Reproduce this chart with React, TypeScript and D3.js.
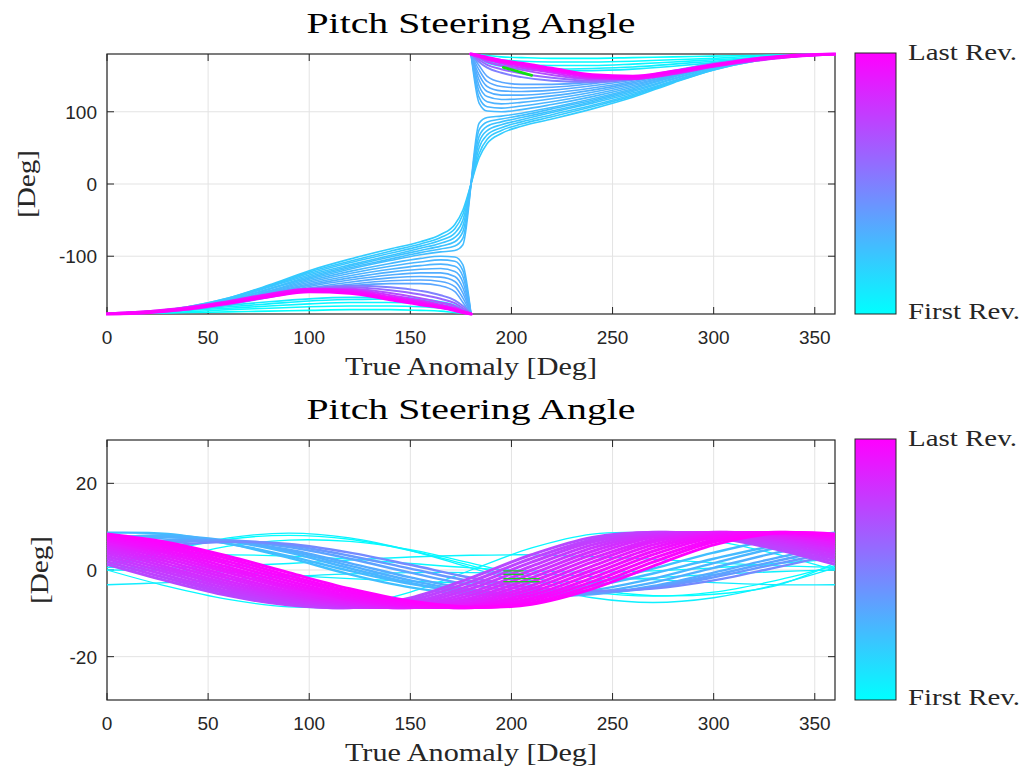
import React from 'react';
import * as d3 from 'd3';

// ---------- data ----------
const xTicks = [0, 50, 100, 150, 200, 250, 300, 350];
const topYTicks = [-100, 0, 100];
const botYTicks = [-20, 0, 20];
const titleText = 'Pitch Steering Angle';
const xLabelText = 'True Anomaly [Deg]';
const yLabelText = '[Deg]';
const cbTopLabel = 'Last Rev.';
const cbBottomLabel = 'First Rev.';

// top panel: each rev drawn as two segments (0-180, 180-360)
const topXFirst = [0, 20, 40, 60, 80, 100, 120, 140, 155, 165, 172, 176, 180];
const topXSecond = [180, 184, 188, 195, 205, 220, 240, 260, 280, 300, 320, 340, 360];
const topRevs = [0.0, 0.02, 0.04, 0.06, 0.08,
  0.2, 0.21, 0.22, 0.23, 0.24, 0.25, 0.26,
  0.28, 0.29, 0.3, 0.31, 0.32, 0.33, 0.34, 0.35,
  0.5, 0.6, 0.7, 0.8,
  0.88, 0.94, 1.0];
const topFirstHalf = [
  [-180, -179, -178, -177, -176, -175, -174, -174, -175, -176, -178, -179, -180],
  [-180, -179, -177, -174, -172, -170, -169, -169, -170, -172, -175, -177, -180],
  [-180, -178, -175, -172, -169, -166, -164, -164, -165, -168, -172, -176, -180],
  [-180, -178, -174, -170, -166, -162, -160, -159, -161, -165, -170, -175, -180],
  [-180, -177, -173, -168, -163, -159, -157, -157, -159, -163, -168, -174, -180],
  [-180, -177, -170, -158, -140, -120, -104, -90, -80, -70, -56, -36, 0],
  [-180, -177, -170, -158, -141, -122, -107, -93, -83, -74, -62, -42, 0],
  [-180, -177, -171, -159, -142, -124, -109, -96, -86, -78, -68, -50, 0],
  [-180, -177, -171, -160, -143, -126, -112, -99, -89, -82, -74, -58, 0],
  [-180, -178, -171, -161, -145, -128, -114, -101, -92, -86, -80, -66, 0],
  [-180, -178, -172, -162, -146, -130, -116, -104, -95, -90, -86, -75, 0],
  [-180, -178, -172, -163, -148, -132, -118, -106, -98, -94, -92, -84, 0],
  [-180, -178, -172, -163, -149, -134, -121, -110, -103, -100, -101, -112, -180],
  [-180, -178, -173, -164, -150, -136, -124, -114, -108, -105, -107, -120, -180],
  [-180, -178, -173, -165, -151, -138, -127, -118, -113, -111, -114, -128, -180],
  [-180, -178, -173, -165, -152, -140, -130, -122, -118, -117, -121, -136, -180],
  [-180, -178, -174, -166, -154, -142, -133, -126, -123, -123, -128, -144, -180],
  [-180, -178, -174, -166, -155, -144, -136, -130, -128, -129, -135, -151, -180],
  [-180, -178, -174, -167, -156, -146, -139, -134, -133, -135, -142, -158, -180],
  [-180, -178, -174, -167, -157, -147, -141, -138, -138, -141, -149, -164, -180],
  [-180, -177, -172, -164, -154, -145, -141, -143, -148, -154, -161, -169, -180],
  [-180, -177, -172, -164, -155, -146, -143, -147, -153, -159, -165, -172, -180],
  [-180, -177, -172, -165, -155, -147, -145, -151, -158, -164, -169, -175, -180],
  [-180, -177, -172, -165, -156, -147, -146, -154, -161, -167, -172, -176, -180],
  [-180, -177, -171, -163, -153, -146, -148, -157, -164, -169, -173, -177, -180],
  [-180, -177, -172, -164, -154, -147, -149, -158, -165, -170, -174, -177, -180],
  [-180, -178, -173, -165, -156, -149, -151, -160, -167, -171, -175, -178, -180],
];
const topSecondHalf = [
  [180, 179, 178, 176, 175, 174, 174, 175, 176, 177, 178, 179, 180],
  [180, 177, 175, 172, 170, 169, 169, 170, 172, 174, 177, 179, 180],
  [180, 176, 172, 168, 165, 164, 164, 166, 169, 172, 175, 178, 180],
  [180, 175, 170, 165, 161, 159, 160, 162, 166, 170, 174, 178, 180],
  [180, 174, 168, 163, 159, 157, 157, 159, 163, 168, 173, 177, 180],
  [0, 36, 56, 70, 80, 90, 104, 120, 140, 158, 170, 177, 180],
  [0, 42, 62, 74, 83, 93, 107, 122, 141, 158, 170, 177, 180],
  [0, 50, 68, 78, 86, 96, 109, 124, 142, 159, 171, 177, 180],
  [0, 58, 74, 82, 89, 99, 112, 126, 143, 160, 171, 177, 180],
  [0, 66, 80, 86, 92, 101, 114, 128, 145, 161, 171, 178, 180],
  [0, 75, 86, 90, 95, 104, 116, 130, 146, 162, 172, 178, 180],
  [0, 84, 92, 94, 98, 106, 118, 132, 148, 163, 172, 178, 180],
  [180, 112, 101, 100, 103, 110, 121, 134, 149, 163, 172, 178, 180],
  [180, 120, 107, 105, 108, 114, 124, 136, 150, 164, 173, 178, 180],
  [180, 128, 114, 111, 113, 118, 127, 138, 151, 165, 173, 178, 180],
  [180, 136, 121, 117, 118, 122, 130, 140, 152, 165, 173, 178, 180],
  [180, 144, 128, 123, 123, 126, 133, 142, 154, 166, 174, 178, 180],
  [180, 151, 135, 129, 128, 130, 136, 144, 155, 166, 174, 178, 180],
  [180, 158, 142, 135, 133, 134, 139, 146, 156, 167, 174, 178, 180],
  [180, 164, 149, 141, 138, 138, 141, 147, 157, 167, 174, 178, 180],
  [180, 169, 161, 154, 148, 143, 141, 145, 154, 164, 172, 177, 180],
  [180, 172, 165, 159, 153, 147, 143, 146, 155, 164, 172, 177, 180],
  [180, 175, 169, 164, 158, 151, 145, 147, 155, 165, 172, 177, 180],
  [180, 176, 172, 167, 161, 154, 146, 147, 156, 165, 172, 177, 180],
  [180, 177, 173, 169, 164, 157, 148, 146, 153, 163, 171, 177, 180],
  [180, 177, 174, 170, 165, 158, 149, 147, 154, 164, 172, 177, 180],
  [180, 178, 175, 171, 167, 160, 151, 149, 156, 165, 173, 178, 180],
];
const greenTopX = [196, 210];
const greenTopY = [161.5, 150.5];

// bottom panel
const botX = [0, 30, 60, 90, 120, 150, 180, 210, 240, 270, 300, 330, 360];
const botRevs = [0.0, 0.01, 0.02, 0.03, 0.04, 0.05, 0.06, 0.07,
  0.25, 0.27, 0.29, 0.31, 0.33, 0.36, 0.4, 0.46,
  0.72, 0.74, 0.76, 0.78, 0.8, 0.82, 0.84, 0.86,
  0.88, 0.9, 0.92, 0.94, 0.955, 0.97, 0.985, 1.0];
const botCurves = [
  [1, 4.5, 7.1, 8, 7.1, 4.5, 1, -2.5, -5.1, -6, -5.1, -2.5, 1],
  [1.6, 2.7, 5.5, 6.9, 6.6, 4.7, 1.6, -1.7, -4.5, -5.9, -5.6, -3.7, 1.6],
  [2.5, 3.2, 3.5, 3.2, 2.5, 1.5, 0.5, -0.2, -0.5, -0.2, 0.5, 1.5, 2.5],
  [0, -3.8, -6.8, -8.5, -8.3, -5.1, 0, 5.1, 8.3, 8.5, 6.8, 3.8, 0],
  [0.6, 0.5, 0.9, 1.5, 2.3, 3.0, 3.4, 3.5, 3.1, 2.5, 1.7, 1.0, 0.6],
  [0, -0.1, -0.5, -1.2, -2.0, -2.6, -3.0, -2.9, -2.5, -1.8, -1.0, -0.4, 0],
  [0.5, 4.5, 7.4, 8.5, 7.4, 4.5, 0.5, -3.5, -6.4, -7.5, -6.4, -3.5, 0.5],
  [-3.4, -2.9, -2.2, -1.5, -0.9, -0.6, -0.6, -0.9, -1.5, -2.2, -2.9, -3.4, -3.4],
  [8.6, 8.3, 6.1, 2.8, -1.0, -4.0, -5.6, -5.3, -3.1, 0.3, 4.0, 7.0, 8.6],
  [7.5, 7.7, 6.1, 3.2, -0.2, -3.2, -5.1, -5.3, -3.7, -0.8, 2.6, 5.6, 7.5],
  [7.3, 8.0, 6.7, 4.0, 0.4, -3.0, -5.3, -6.0, -4.7, -2.0, 1.6, 5.0, 7.3],
  [6.4, 7.5, 6.7, 4.4, 1.0, -2.4, -4.9, -6.0, -5.2, -2.9, 0.5, 3.9, 6.4],
  [5.5, 6.9, 6.6, 4.7, 1.6, -1.7, -4.5, -5.9, -5.6, -3.7, -0.6, 2.7, 5.5],
  [4.9, 6.6, 6.8, 5.3, 2.6, -0.6, -3.5, -5.2, -5.4, -3.9, -1.2, 2.0, 4.9],
  [4.2, 6.2, 6.8, 5.7, 3.3, 0.3, -2.6, -4.6, -5.2, -4.1, -1.7, 1.3, 4.2],
  [3.6, 5.6, 6.5, 6.0, 4.0, 1.2, -1.8, -4.0, -4.8, -4.3, -2.4, 0.5, 3.6],
  [1.3, -2.56, -5.92, -8.1, -8.65, -6.47, -1.81, 3.54, 7.53, 8.68, 7.53, 4.9, 1.3],
  [1.93, -1.93, -5.41, -7.82, -8.7, -7.0, -2.68, 2.68, 7.0, 8.7, 7.82, 5.41, 1.93],
  [2.56, -1.3, -4.9, -7.53, -8.68, -7.53, -3.54, 1.81, 6.47, 8.65, 8.1, 5.92, 2.56],
  [3.17, -0.65, -4.34, -7.17, -8.58, -7.9, -4.33, 0.9, 5.79, 8.46, 8.29, 6.36, 3.17],
  [3.77, 0, -3.77, -6.8, -8.48, -8.27, -5.11, 0, 5.11, 8.27, 8.48, 6.8, 3.77],
  [4.34, 0.65, -3.17, -6.36, -8.29, -8.46, -5.79, -0.9, 4.33, 7.9, 8.58, 7.17, 4.34],
  [4.9, 1.3, -2.56, -5.92, -8.1, -8.65, -6.47, -1.81, 3.54, 7.53, 8.68, 7.53, 4.9],
  [5.41, 1.93, -1.93, -5.41, -7.82, -8.7, -7.0, -2.68, 2.68, 7.0, 8.7, 7.82, 5.41],
  [5.92, 2.56, -1.3, -4.9, -7.53, -8.68, -7.53, -3.54, 1.81, 6.47, 8.65, 8.1, 5.92],
  [6.36, 3.17, -0.65, -4.34, -7.17, -8.58, -7.9, -4.33, 0.9, 5.79, 8.46, 8.29, 6.36],
  [6.8, 3.77, 0, -3.77, -6.8, -8.48, -8.27, -5.11, 0, 5.11, 8.27, 8.48, 6.8],
  [7.17, 4.34, 0.65, -3.17, -6.36, -8.29, -8.46, -5.79, -0.9, 4.33, 7.9, 8.58, 7.17],
  [7.53, 4.9, 1.3, -2.56, -5.92, -8.1, -8.65, -6.47, -1.81, 3.54, 7.53, 8.68, 7.53],
  [7.82, 5.41, 1.93, -1.93, -5.41, -7.82, -8.7, -7.0, -2.68, 2.68, 7.0, 8.7, 7.82],
  [8.1, 5.92, 2.56, -1.3, -4.9, -7.53, -8.68, -7.53, -3.54, 1.81, 6.47, 8.65, 8.1],
  [8.29, 6.36, 3.17, -0.65, -4.34, -7.17, -8.58, -7.9, -4.33, 0.9, 5.79, 8.46, 8.29],
];
const greenBotStart = [196, 196, 196, 196];
const greenBotEnd = [206, 206, 214, 214];
const greenBotY = [-0.2, -1.0, -2.0, -2.7];

// ---------- layout ----------
const LEFT = 107;
const RIGHT = 835;
const PANEL_H = 260;
const CB_X = 855;
const CB_W = 41;
const AX = '#262626';
const GRID = '#e3e3e3';
const SERIF = '"Liberation Serif", "Times New Roman", serif';
const SANS = '"Liberation Sans", Arial, Helvetica, sans-serif';

const cool = d3.interpolateRgb('#00ffff', '#ff00ff');

type PanelProps = {
  id: string;
  top: number;
  yDomain: [number, number];
  yTicks: number[];
  yLabelX: number;
  children: (x: d3.ScaleLinear<number, number>, y: d3.ScaleLinear<number, number>) => React.ReactNode;
};

function Panel({ id, top, yDomain, yTicks, yLabelX, children }: PanelProps) {
  const bottom = top + PANEL_H;
  const x = d3.scaleLinear().domain([0, 360]).range([LEFT, RIGHT]);
  const y = d3.scaleLinear().domain(yDomain).range([bottom, top]);
  const tickLen = 7;
  const midX = (LEFT + RIGHT) / 2;
  return (
    <g>
      <defs>
        <clipPath id={`clip-${id}`}>
          <rect x={LEFT - 1} y={top - 1.5} width={RIGHT - LEFT + 2} height={PANEL_H + 3} />
        </clipPath>
        <linearGradient id={`grad-${id}`} x1="0" y1="1" x2="0" y2="0">
          <stop offset="0%" stopColor="#00ffff" />
          <stop offset="100%" stopColor="#ff00ff" />
        </linearGradient>
      </defs>
      <text x={midX} y={top - 21} textAnchor="middle" fontFamily={SERIF} fontSize={30}
        textLength={329} lengthAdjust="spacingAndGlyphs" fill="#000">{titleText}</text>
      {xTicks.map((t) => (
        <line key={`gx${t}`} x1={x(t)} x2={x(t)} y1={top} y2={bottom} stroke={GRID} strokeWidth={1} />
      ))}
      {yTicks.map((t) => (
        <line key={`gy${t}`} x1={LEFT} x2={RIGHT} y1={y(t)} y2={y(t)} stroke={GRID} strokeWidth={1} />
      ))}
      {xTicks.map((t) => (
        <g key={`tx${t}`}>
          <line x1={x(t)} x2={x(t)} y1={bottom} y2={bottom - tickLen} stroke={AX} strokeWidth={1} />
          <line x1={x(t)} x2={x(t)} y1={top} y2={top + tickLen} stroke={AX} strokeWidth={1} />
          <text x={x(t)} y={bottom + 30} textAnchor="middle" fontFamily={SANS} fontSize={19} fill={AX}>{t}</text>
        </g>
      ))}
      {yTicks.map((t) => (
        <g key={`ty${t}`}>
          <line x1={LEFT} x2={LEFT + tickLen} y1={y(t)} y2={y(t)} stroke={AX} strokeWidth={1} />
          <line x1={RIGHT} x2={RIGHT - tickLen} y1={y(t)} y2={y(t)} stroke={AX} strokeWidth={1} />
          <text x={LEFT - 10} y={y(t) + 7} textAnchor="end" fontFamily={SANS} fontSize={19} fill={AX}>{t}</text>
        </g>
      ))}
      <rect x={LEFT} y={top} width={RIGHT - LEFT} height={PANEL_H} fill="none" stroke={AX} strokeWidth={1.2} />
      <g clipPath={`url(#clip-${id})`}>{children(x, y)}</g>
      <text x={midX} y={bottom + 61} textAnchor="middle" fontFamily={SERIF} fontSize={26}
        textLength={252} lengthAdjust="spacingAndGlyphs" fill={AX}>{xLabelText}</text>
      <text transform={`translate(${yLabelX},${top + PANEL_H / 2}) rotate(-90)`} textAnchor="middle"
        fontFamily={SERIF} fontSize={26} textLength={68} lengthAdjust="spacingAndGlyphs" fill={AX}>{yLabelText}</text>
      <rect x={CB_X} y={top - 1} width={CB_W} height={PANEL_H + 1} fill={`url(#grad-${id})`} stroke={AX} strokeWidth={1} />
      <text x={908} y={top + 6} fontFamily={SERIF} fontSize={23} textLength={109}
        lengthAdjust="spacingAndGlyphs" fill={AX}>{cbTopLabel}</text>
      <text x={908} y={bottom + 5} fontFamily={SERIF} fontSize={23} textLength={112}
        lengthAdjust="spacingAndGlyphs" fill={AX}>{cbBottomLabel}</text>
    </g>
  );
}

export default function App() {
  const topWidth = (t: number) => (t >= 0.85 ? 3.2 : t >= 0.45 ? 2.0 : 1.6);
  const botWidth = (t: number) => (t >= 0.6 ? 3.0 : t >= 0.2 ? 2.4 : 1.3);
  return (
    <svg width={1026} height={771} style={{ position: 'absolute', left: 0, top: 0, background: '#fff' }}>
      <rect x={0} y={0} width={1026} height={771} fill="#fff" />
      <Panel id="top" top={54} yDomain={[-180, 180]} yTicks={topYTicks} yLabelX={35}>
        {(x, y) => {
          const gen = (xs: number[]) =>
            d3.line<number>().x((_, i) => x(xs[i])).y((d) => y(d)).curve(d3.curveMonotoneX);
          return (
            <g fill="none" strokeLinejoin="round" strokeLinecap="round">
              {topRevs.map((t, k) => (
                <g key={k} stroke={cool(t)} strokeWidth={topWidth(t)}>
                  <path d={gen(topXFirst)(topFirstHalf[k]) || ''} />
                  <path d={gen(topXSecond)(topSecondHalf[k]) || ''} />
                </g>
              ))}
              <path d={d3.line<number>().x((_, i) => x(greenTopX[i])).y((d) => y(d))(greenTopY) || ''}
                stroke="#10e010" strokeWidth={2.8} />
            </g>
          );
        }}
      </Panel>
      <Panel id="bot" top={440} yDomain={[-30, 30]} yTicks={botYTicks} yLabelX={48}>
        {(x, y) => {
          const gen = d3.line<number>().x((_, i) => x(botX[i])).y((d) => y(d)).curve(d3.curveCatmullRom.alpha(0.5));
          return (
            <g fill="none" strokeLinejoin="round">
              {botRevs.map((t, k) => (
                <path key={k} d={gen(botCurves[k]) || ''} stroke={cool(t)} strokeWidth={botWidth(t)} />
              ))}
              {greenBotY.map((v, k) => (
                <line key={`g${k}`} x1={x(greenBotStart[k])} x2={x(greenBotEnd[k])} y1={y(v)} y2={y(v)}
                  stroke="#22cc22" strokeWidth={1.3} />
              ))}
            </g>
          );
        }}
      </Panel>
    </svg>
  );
}
